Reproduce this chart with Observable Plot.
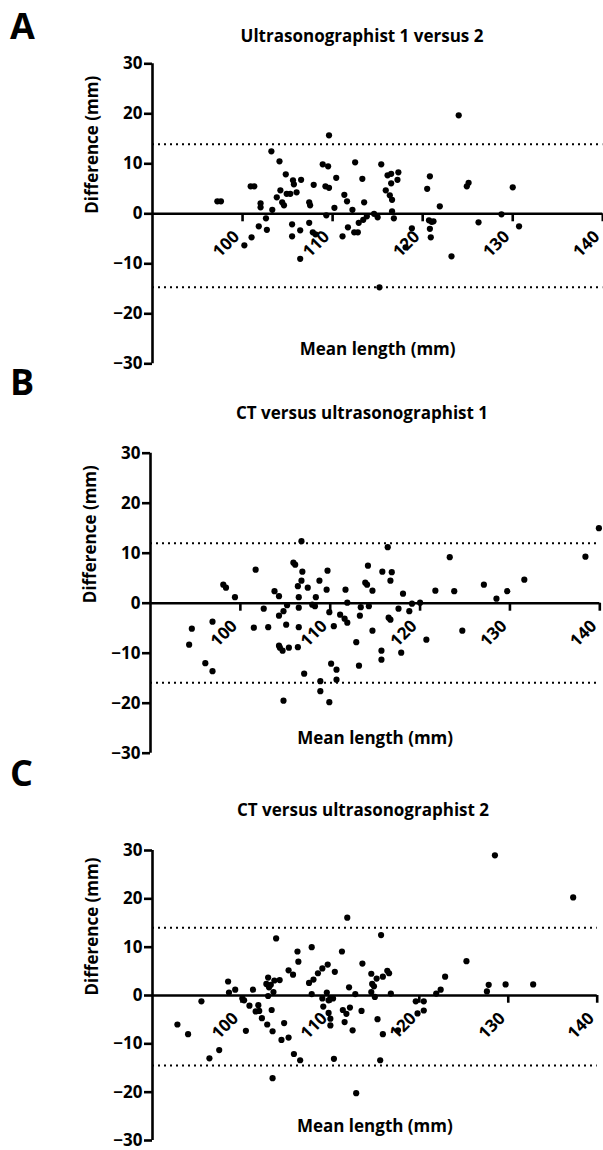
<!DOCTYPE html>
<html>
<head>
<meta charset="utf-8">
<script src="https://cdn.jsdelivr.net/npm/d3@7"></script>
<script src="https://cdn.jsdelivr.net/npm/@observablehq/plot@0.6"></script>
<style>
  html, body { margin: 0; padding: 0; background: #fff; }
  #root { position: relative; width: 603px; height: 1150px; overflow: hidden; font-family: "Open Sans", sans-serif; font-weight: 700; color: #000; }
  .panel { position: absolute; left: 0; }
  .letter { position: absolute; font-size: 36px; line-height: 40px; font-weight: 700; }
  .title { position: absolute; font-size: 17px; line-height: 20px; font-weight: 700; white-space: nowrap; transform: translateX(-50%); }
</style>
</head>
<body>
<div id="root"></div>
<script>
// ---------- data ----------
const panelLetters = ["A", "B", "C"];
const panelTitles = ["Ultrasonographist 1 versus 2", "CT versus ultrasonographist 1", "CT versus ultrasonographist 2"];
const xLabel = "Mean length (mm)";
const yLabel = "Difference (mm)";
const xTicks = [100, 110, 120, 130, 140];
const yTicks = [-30, -20, -10, 0, 10, 20, 30];

// Panel A: ultrasonographist 1 vs 2
const meanA = [97.2,97.6,100.9,101.3,102.0,102.0,103.2,104.1,104.8,105.6,105.7,106.5,106.0,104.9,105.3,104.2,103.8,104.4,104.6,103.3,102.6,101.8,102.7,101.0,100.2,105.5,105.5,106.4,106.4,107.4,107.5,107.9,107.4,107.8,108.1,108.9,109.5,109.6,109.2,109.6,109.3,110.4,110.2,111.3,111.6,111.1,111.7,112.5,113.3,113.5,112.2,112.4,112.8,112.9,113.4,113.8,114.6,115.0,115.4,115.9,116.1,116.5,116.5,116.35,116.6,116.6,116.8,117.2,117.3,115.2,118.8,118.1,120.5,120.8,120.7,121.0,121.2,120.8,120.9,121.9,123.2,124.0,124.9,125.1,126.2,128.75,130.0,130.7];
const diffA = [2.5,2.5,5.5,5.5,2.1,1.3,12.5,10.5,7.9,6.7,5.9,6.8,4.3,4.0,4.0,4.7,3.3,2.3,1.7,0.8,-0.9,-2.5,-3.2,-4.7,-6.3,-2.1,-4.5,-3.3,-9.0,2.3,1.7,5.8,-1.8,-3.7,-4.1,9.9,9.5,15.7,5.5,5.2,-0.3,7.2,1.2,3.8,2.5,-4.5,-2.7,10.3,7.0,2.3,0.8,-3.7,-3.7,-1.8,-1.2,-0.5,0.0,-0.7,9.9,4.7,7.7,8.0,6.1,3.7,2.8,0.5,-0.9,6.8,8.3,-14.7,-2.9,-6.7,5.0,7.5,-1.3,-1.6,-1.5,-3.0,-4.7,1.5,-8.5,19.7,5.5,6.2,-1.7,-0.1,5.3,-2.5];
const limitsA = [13.9, -14.7];

// Panel B: CT vs ultrasonographist 1
const meanB = [98.1,98.4,99.4,101.7,102.6,103.8,104.3,104.3,104.8,105.2,105.9,106.1,106.8,106.9,106.8,106.4,107.5,106.5,106.5,108.8,109.7,109.6,108.4,108.0,108.3,109.9,110.4,111.1,111.6,111.9,111.7,111.9,113.3,113.4,113.9,114.1,114.2,94.6,96.9,101.5,103.1,105.1,106.5,94.3,96.1,96.9,104.3,104.4,104.7,105.4,106.4,107.1,104.8,108.9,108.9,109.9,110.1,110.7,110.7,112.9,113.2,114.7,114.3,115.8,116.4,116.85,116.7,118.1,119.1,120.0,117.6,118.8,116.5,116.7,114.7,121.7,123.3,123.8,124.7,120.7,127.1,128.5,129.7,131.6,138.4,139.9,115.7,115.7,117.9];
const diffB = [3.7,3.1,1.2,6.7,-1.1,2.4,1.4,-2.5,-1.6,-0.4,8.1,7.7,12.4,6.3,4.5,3.4,3.1,1.2,-0.9,4.5,6.5,2.7,1.2,-0.3,-0.6,-1.8,-4.6,-2.3,-3.1,-3.9,2.7,0.1,-2.5,-0.8,4.1,3.7,7.5,-5.1,-3.7,-4.9,-4.8,-4.3,-4.8,-8.3,-12.0,-13.6,-8.5,-8.9,-9.5,-8.9,-8.8,-14.1,-19.5,-15.6,-17.6,-19.8,-12.1,-13.3,-15.3,-7.8,-12.5,2.5,-0.6,6.3,11.2,6.2,4.5,1.9,-0.1,0.1,-1.1,-1.6,-2.9,-3.3,-5.5,2.5,9.2,2.4,-5.5,-7.3,3.7,0.9,2.4,4.7,9.3,15.0,-9.5,-11.3,-9.9];
const limitsB = [12.0, -15.9];

// Panel C: CT vs ultrasonographist 2
const meanC = [98.5,98.6,99.3,101.3,103.0,102.8,103.1,103.3,103.7,103.9,104.3,103.6,105.3,105.8,106.3,106.4,107.9,107.6,108.1,108.6,109.1,109.7,110.5,111.3,111.9,112.1,113.6,107.9,109.6,112.8,114.6,115.2,114.7,114.9,115.7,115.9,116.4,116.6,114.6,116.8,121.9,122.4,122.9,125.3,127.6,127.8,129.7,132.8,128.5,137.3,92.8,94.0,95.5,96.4,97.5,100.1,100.3,100.9,101.9,101.6,102.0,102.3,102.9,103.5,103.4,100.5,103.0,103.5,104.8,104.5,105.3,105.9,106.6,109.1,109.2,109.8,110.0,110.3,109.8,110.0,110.0,110.4,111.4,111.8,112.2,111.6,112.5,112.9,113.5,115.0,115.3,115.9,115.6,119.6,120.5,119.8,120.5,117.6];
const diffC = [2.9,0.6,1.2,1.2,3.7,2.4,1.7,2.2,3.1,11.8,3.2,0.7,5.2,4.3,9.1,7.0,10.0,2.6,3.3,4.6,5.6,6.4,4.9,9.1,16.1,1.7,6.6,0.3,0.6,0.3,4.5,3.5,2.4,1.9,12.5,3.9,5.1,4.6,0.7,0.4,0.4,1.2,3.9,7.1,0.85,2.2,2.3,2.3,29.0,20.3,-6.0,-8.0,-1.2,-13.0,-11.3,-0.6,-1.0,-2.1,-2.0,-3.3,-3.2,-4.7,-6.0,-7.4,-3.0,-7.3,-0.1,-17.1,-5.7,-9.2,-8.7,-12.1,-13.4,-0.6,-2.3,-1.0,-0.6,-0.6,-3.6,-4.8,-6.2,-13.1,-3.0,-3.8,-2.5,-5.5,-7.2,-20.2,-3.2,-0.3,-4.9,-8.0,-13.4,-1.2,-1.2,-3.7,-3.1,-7.2];
const limitsC = [14.0, -14.5];

// ---------- layout (positions only) ----------
const layouts = [
  {top: 0,   height: 380, ml: 152, mr: 0.7, mt: 63.3, mb: 16.7, letterTop: 6,   titleTop: 26,  titleX: 362},
  {top: 390, height: 380, ml: 150, mr: 3.7, mt: 62.7, mb: 17.3, letterTop: 362, titleTop: 403, titleX: 362},
  {top: 780, height: 370, ml: 152, mr: 6.3, mt: 70,   mb: 10,   letterTop: 753, titleTop: 800, titleX: 363}
];
const series = [
  {mean: meanA, diff: diffA, limits: limitsA},
  {mean: meanB, diff: diffB, limits: limitsB},
  {mean: meanC, diff: diffC, limits: limitsC}
];

const root = document.getElementById("root");
const font = {fontFamily: "'Open Sans', sans-serif", fontWeight: 700};

series.forEach((s, i) => {
  const L = layouts[i];
  const data = s.mean.map((m, k) => ({mean: m, diff: s.diff[k]}));
  const chart = Plot.plot({
    width: 603,
    height: L.height,
    marginLeft: L.ml, marginRight: L.mr, marginTop: L.mt, marginBottom: L.mb,
    style: {fontFamily: "'Open Sans', sans-serif", fontWeight: 700, fontSize: "17px", color: "#000", background: "transparent", overflow: "visible"},
    x: {domain: [90, 140], axis: null},
    y: {domain: [-30, 30], axis: null},
    marks: [
      Plot.ruleY(s.limits, {stroke: "#000", strokeWidth: 2, strokeDasharray: "2 4"}),
      Plot.ruleY([0], {stroke: "#000", strokeWidth: 2.6}),
      Plot.ruleX(xTicks, {x: d => d, y1: 0, y2: -1.6, stroke: "#000", strokeWidth: 2.6}),
      Plot.text(xTicks, {x: d => d, y: 0, text: d => String(d), rotate: -45, textAnchor: "end", dx: -6, dy: 20, fontSize: 17, ...font}),
      Plot.axisY(yTicks, {anchor: "left", tickSize: 8, tickPadding: 2, strokeWidth: 2.6, fontSize: 17, label: null, ...font}),
      Plot.ruleX([90], {y1: -30, y2: 30, stroke: "#000", strokeWidth: 2.6}),
      Plot.dot(data, {x: "mean", y: "diff", r: 3.1, fill: "#000", stroke: null}),
      Plot.text([xLabel], {frameAnchor: "bottom", dy: -9, fontSize: 17, ...font}),
      Plot.text([yLabel], {frameAnchor: "left", dx: -60, rotate: -90, fontSize: 17, ...font})
    ]
  });
  chart.classList.add("panel");
  chart.style.top = L.top + "px";
  root.appendChild(chart);

  const letter = document.createElement("div");
  letter.className = "letter";
  letter.textContent = panelLetters[i];
  letter.style.left = "10px";
  letter.style.top = L.letterTop + "px";
  root.appendChild(letter);

  const title = document.createElement("div");
  title.className = "title";
  title.textContent = panelTitles[i];
  title.style.left = L.titleX + "px";
  title.style.top = L.titleTop + "px";
  root.appendChild(title);
});
</script>
</body>
</html>
